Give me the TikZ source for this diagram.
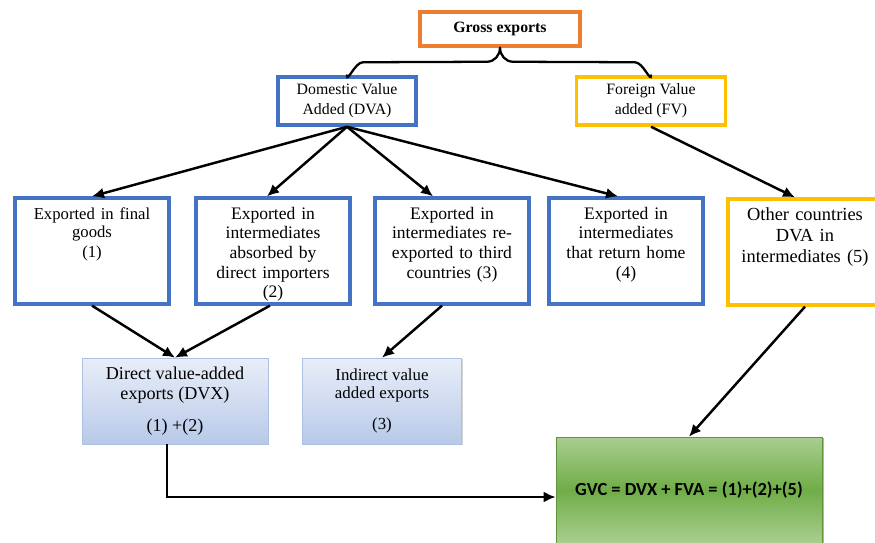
\documentclass[tikz,border=0pt]{standalone}
\usepackage{xcolor}
\usepackage{fontspec}
\setmainfont{Liberation Serif}
\newfontfamily\calfont{Carlito}
\usetikzlibrary{arrows.meta}
\usetikzlibrary{shadows}

\definecolor{orng}{HTML}{ED7D31}
\definecolor{blu}{HTML}{4472C4}
\definecolor{yel}{HTML}{FFC000}
\definecolor{grn}{HTML}{70AD47}

\begin{document}
\begin{tikzpicture}
[x=0.02cm,y=-0.02cm,
gros/.style={rectangle,draw=orng,line width=2pt,minimum width=3.2cm,minimum height=0.68cm,font=\fontsize{9}{11}\selectfont\bfseries},
domv/.style={rectangle,draw=blu,line width=2pt,minimum width=2.76cm,minimum height=0.96cm,align=center,font=\fontsize{9}{11.3}\selectfont},
forv/.style={domv,draw=yel,minimum width=2.98cm},
expb/.style={rectangle,draw=blu,line width=2pt,minimum width=3.08cm,text width=2.85cm,align=center,inner ysep=4pt,text height=8pt,text depth=44.2pt,font=\fontsize{10}{11.2}\selectfont},
othb/.style={expb,draw=yel,font=\fontsize{10.5}{12}\selectfont},
sumb/.style={rectangle,draw=blu!45,top color=blu!12,bottom color=blu!38,align=center,minimum height=1.72cm,drop shadow={shadow xshift=0.7pt,shadow yshift=-0.7pt,opacity=0.35}},
gvcb/.style={rectangle,draw=grn!85!black,top color=grn!60,bottom color=grn!60,middle color=grn,minimum width=5.32cm,minimum height=2.12cm,font=\calfont\bfseries\fontsize{10.5}{12}\selectfont,drop shadow={shadow xshift=1.2pt,shadow yshift=-0.8pt,opacity=0.6}},
arro/.style={-{Latex[length=2.4mm,width=2.2mm]},line width=1.4pt},
brac/.style={line width=1.3pt,line cap=round}]
\useasboundingbox (0,0) rectangle (875,542);

\node at (500,29) [gros] (gx) {Gross exports};
\node at (347,101) [domv] (dva) {Domestic Value\\Added (DVA)};
\node at (651,101) [forv] (fva) {Foreign Value\\added (FV)};

\node at (92,251) [expb] (e1) {\fontsize{9.5}{10.5}\selectfont Exported in final\\goods\\(1)};
\node at (273,251) [expb] (e2) {Exported in\\intermediates\\absorbed by\\direct importers\\(2)};
\node at (452,251) [expb] (e3) {Exported in\\intermediates re-\\exported to third\\countries (3)};
\node at (626,251) [expb] (e4) {Exported in\\intermediates\\that return home\\(4)};
\node at (805,252) [othb] (e5) {Other countries\\DVA in\\intermediates (5)};

\node at (175,401) [sumb,minimum width=3.72cm,font=\fontsize{10.3}{11.5}\selectfont] (dvx) {Direct value-added\\exports (DVX)\\[7pt](1) +(2)};
\node at (382,401) [sumb,minimum width=3.18cm,font=\fontsize{9.6}{10.5}\selectfont] (ivx) {Indirect value\\added exports\\[7pt](3)};
\node at (689,490) [gvcb] (gvc) {GVC = DVX + FVA = (1)+(2)+(5)};

% brace under gross exports
\draw[brac] (dva.north) to[out=-90,in=180] ++(16,-13) -- ([xshift=-0.26cm,yshift=-0.28cm]gx.south) to[out=0,in=-90] (gx.south);
\draw[brac] (fva.north) to[out=-90,in=0] ++(-16,-13) -- ([xshift=0.26cm,yshift=-0.28cm]gx.south) to[out=180,in=-90] (gx.south);

\draw[arro] (dva.south) -- (e1.north);
\draw[arro] (dva.south) -- ([xshift=-0.12cm]e2.north);
\draw[arro] (dva.south) -- ([xshift=-0.38cm]e3.north);
\draw[arro] (dva.south) -- ([xshift=-0.16cm]e4.north);
\draw[arro] (fva.south) -- ([xshift=-0.2cm]e5.north);

\draw[arro] (e1.south) -- (dvx.north);
\draw[arro] ([xshift=-0.06cm]e2.south) -- (dvx.north);
\draw[arro] ([xshift=-0.2cm]e3.south) -- (ivx.north);
\draw[arro] (e5.south) -- (gvc.north);
\draw[arro] ([xshift=-0.16cm]dvx.south) |- ([yshift=-0.14cm]gvc.west);
\end{tikzpicture}
\end{document}
